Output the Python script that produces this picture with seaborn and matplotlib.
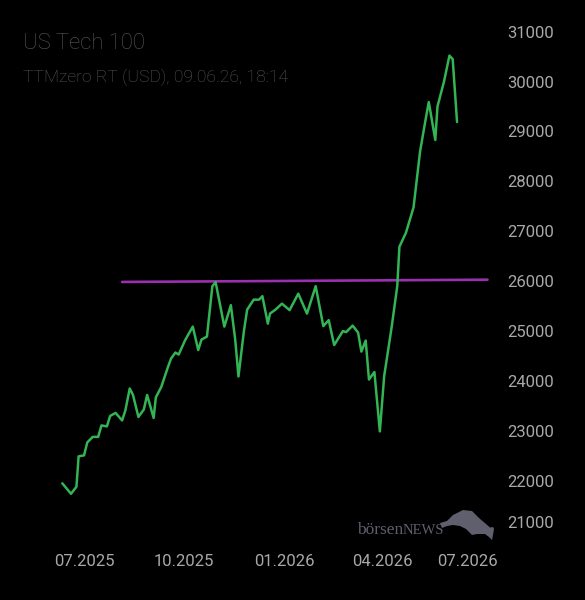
import matplotlib
matplotlib.use("Agg")
import matplotlib.pyplot as plt
import matplotlib.dates as mdates
import matplotlib.transforms as mtransforms
from matplotlib.patches import Polygon
import seaborn as sns
import pandas as pd

# ---- data ----
dates = [
    "2025-06-11", "2025-06-19", "2025-06-24", "2025-06-26", "2025-07-01",
    "2025-07-04", "2025-07-09", "2025-07-14", "2025-07-17", "2025-07-22",
    "2025-07-25", "2025-07-30", "2025-08-05", "2025-08-08", "2025-08-12",
    "2025-08-15", "2025-08-20", "2025-08-25", "2025-08-28", "2025-09-03",
    "2025-09-05", "2025-09-10", "2025-09-16", "2025-09-19", "2025-09-23",
    "2025-09-26", "2025-10-02", "2025-10-09", "2025-10-14", "2025-10-17",
    "2025-10-22", "2025-10-27", "2025-10-30", "2025-11-07", "2025-11-13",
    "2025-11-17", "2025-11-20", "2025-11-25", "2025-11-28", "2025-12-04",
    "2025-12-09", "2025-12-12", "2025-12-17", "2025-12-19", "2025-12-24",
    "2025-12-30", "2026-01-06", "2026-01-14", "2026-01-22", "2026-01-30",
    "2026-02-06", "2026-02-11", "2026-02-16", "2026-02-24", "2026-02-27",
    "2026-03-05", "2026-03-10", "2026-03-13", "2026-03-17", "2026-03-20",
    "2026-03-25", "2026-03-30", "2026-04-03", "2026-04-10", "2026-04-15",
    "2026-04-17", "2026-04-23", "2026-04-30", "2026-05-06", "2026-05-11",
    "2026-05-14", "2026-05-20", "2026-05-22", "2026-05-28", "2026-06-02",
    "2026-06-05", "2026-06-09",
]
prices = [
    21950, 21740, 21880, 22490, 22510,
    22770, 22880, 22880, 23110, 23090,
    23300, 23360, 23210, 23410, 23850,
    23720, 23280, 23430, 23720, 23260,
    23670, 23880, 24270, 24450, 24570,
    24530, 24820, 25090, 24620, 24830,
    24890, 25900, 25980, 25090, 25520,
    24830, 24090, 25000, 25430, 25630,
    25630, 25700, 25150, 25350, 25430,
    25550, 25420, 25750, 25350, 25900,
    25100, 25220, 24720, 25000, 24980,
    25110, 24970, 24590, 24810, 24030,
    24180, 22990, 24100, 25100, 25900,
    26690, 26970, 27480, 28600, 29230,
    29590, 28830, 29500, 30000, 30520,
    30450, 29190,
]
# resistance line drawn on the chart
level_dates = ["2025-08-05", "2026-07-07"]
level_values = [25985, 26030]

x_ticks = ["2025-07-01", "2025-10-01", "2026-01-01", "2026-04-01", "2026-07-01"]
y_ticks = list(range(21000, 31001, 1000))

title = "US Tech 100"
subtitle = "TTMzero RT (USD), 09.06.26, 18:14"

df = pd.DataFrame({"date": pd.to_datetime(dates), "price": prices})
level = pd.DataFrame({"date": pd.to_datetime(level_dates), "price": level_values})

# ---- style ----
sns.set_theme(style="dark", rc={
    "figure.facecolor": "black",
    "axes.facecolor": "black",
    "axes.grid": False,
})
plt.rcParams["font.family"] = ["Roboto", "DejaVu Sans"]

GREEN = "#33b455"
PURPLE = "#9b2fb2"
TICK_GRAY = "#a8a8a8"
TITLE_GRAY = "#58585e"
LOGO_GRAY = "#5f5f6d"

fig = plt.figure(figsize=(5.85, 6), dpi=100)
ax = fig.add_axes([0.0879, 0.1155, 0.7603, 0.8317])

sns.lineplot(data=level, x="date", y="price", ax=ax, color=PURPLE, linewidth=1.9)
sns.lineplot(data=df, x="date", y="price", ax=ax, color=GREEN, linewidth=1.8)

ax.set_xlim(pd.Timestamp("2025-06-01"), pd.Timestamp("2026-07-15"))
ax.set_ylim(21000, 31000)
ax.set_xlabel("")
ax.set_ylabel("")
for s in ax.spines.values():
    s.set_visible(False)

ax.set_xticks(pd.to_datetime(x_ticks))
ax.xaxis.set_major_formatter(mdates.DateFormatter("%m.%Y"))
ax.set_yticks(y_ticks)
ax.yaxis.tick_right()
ax.tick_params(axis="x", length=0, pad=17, labelsize=12, labelcolor=TICK_GRAY)
ax.tick_params(axis="y", length=0, pad=8, labelsize=12, labelcolor=TICK_GRAY)

# the outermost labels are pushed inside the chart area
fig.canvas.draw()
xl = ax.get_xticklabels()[-1]
xl.set_transform(xl.get_transform() + mtransforms.ScaledTranslation(-9.4 / 72, 0, fig.dpi_scale_trans))
yl = ax.get_yticklabels()[0]
yl.set_transform(yl.get_transform() + mtransforms.ScaledTranslation(0, 6.5 / 72, fig.dpi_scale_trans))

W, H = 585, 600
fig.text(23 / W, 1 - 49 / H, title, fontsize=15.8, fontweight="light", color=TITLE_GRAY, va="baseline")
fig.text(23 / W, 1 - 82 / H, subtitle, fontsize=12.6, fontweight="light", color=TITLE_GRAY, va="baseline")

# boersenNEWS watermark
fig.text(357 / W, 1 - 534 / H, "börsen", fontsize=12.5, family="Liberation Serif", color=LOGO_GRAY, va="baseline")
fig.text(403 / W, 1 - 534 / H, "NEWS", fontsize=10.5, family="Liberation Serif", color=LOGO_GRAY, va="baseline")
bull = [(440, 523), (447, 521), (453, 515), (463, 510), (472, 511), (479, 518), (486, 524),
        (490, 527.5), (493, 527), (494, 529), (493, 535), (492, 540), (489, 537), (485, 534),
        (477, 534), (472, 535), (469, 532), (466, 529), (460, 526), (453, 525), (447, 526), (442, 528)]
fig.patches.append(Polygon([(x / W, 1 - y / H) for x, y in bull], closed=True,
                           transform=fig.transFigure, color=LOGO_GRAY, lw=0))

fig.savefig("out.png", dpi=100, facecolor="black")
